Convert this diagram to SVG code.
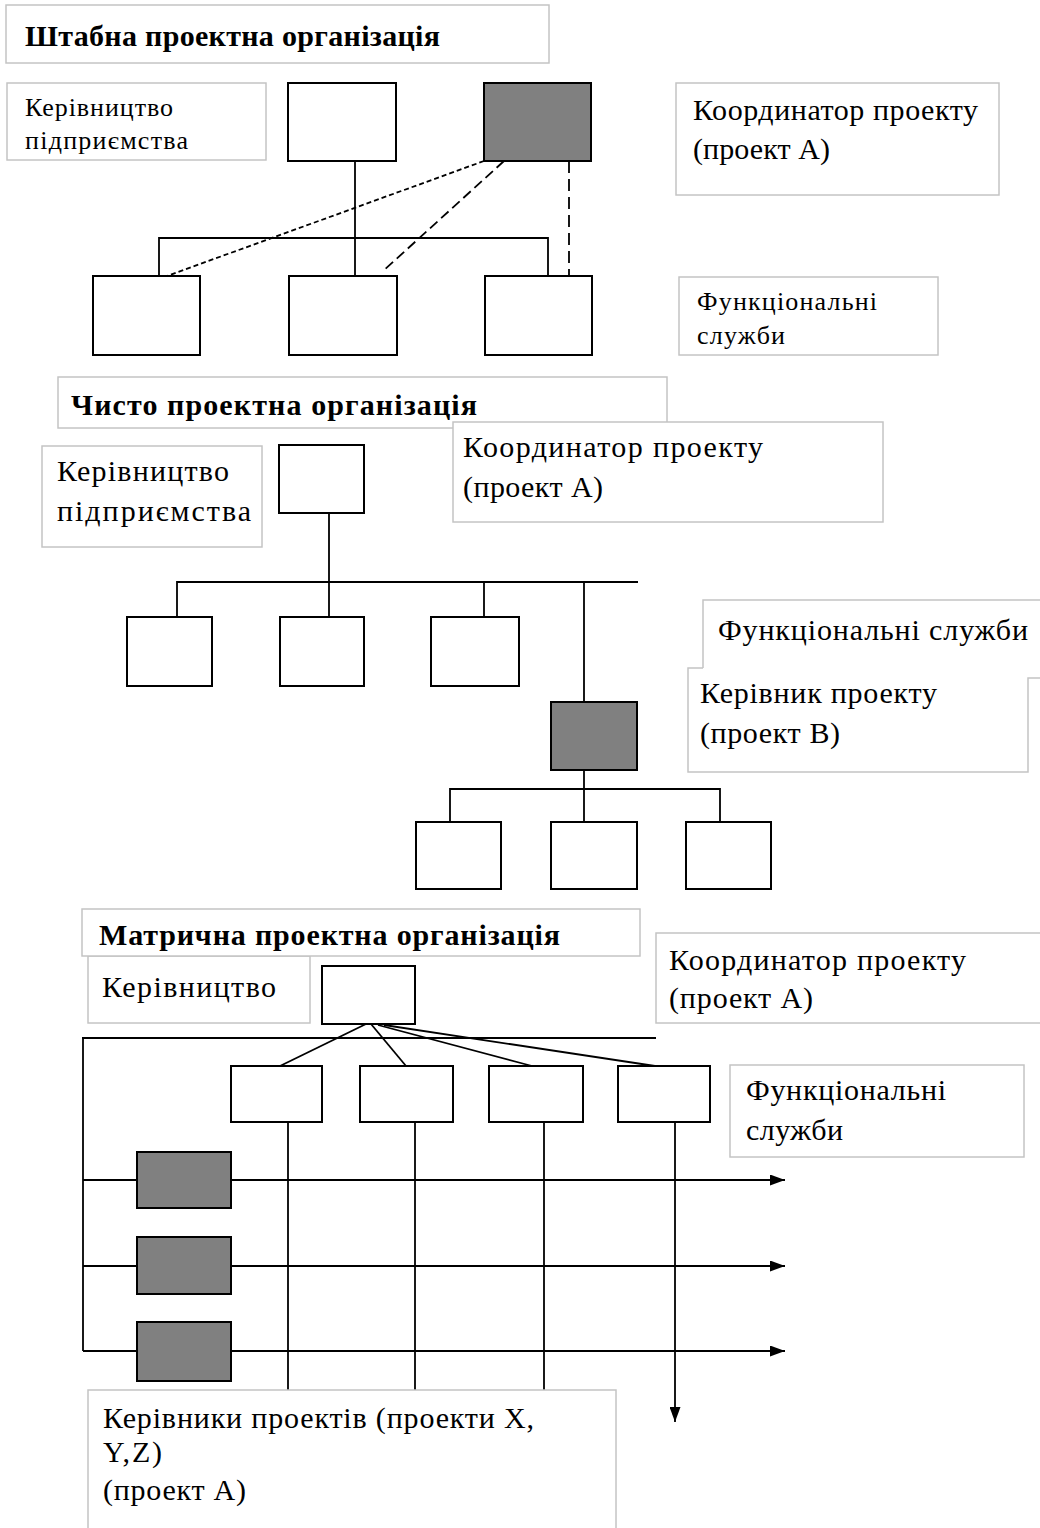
<svg xmlns="http://www.w3.org/2000/svg" width="1040" height="1528" viewBox="0 0 1040 1528">
<defs>
<style>
.frame{fill:#fff;stroke:#c4c4c4;stroke-width:1.5}
.fl{fill:none;stroke:#c4c4c4;stroke-width:1.5}
.box{fill:#fff;stroke:#000;stroke-width:2}
.gbox{fill:#808080;stroke:#000;stroke-width:2}
.ln{fill:none;stroke:#000;stroke-width:1.8}
.lbl{font-family:"Liberation Serif","DejaVu Serif",serif;font-size:30px;fill:#000}
.sm{font-size:26px}
.ttl{font-family:"Liberation Serif","DejaVu Serif",serif;font-size:30px;font-weight:bold;fill:#000}
</style>
<marker id="arr" markerUnits="userSpaceOnUse" markerWidth="15" markerHeight="11" refX="15" refY="5.5" orient="auto">
<path d="M0,0 L15,5.5 L0,11 z" fill="#000"/>
</marker>
</defs>
<rect width="1040" height="1528" fill="#fff"/>

<!-- ===== Section 1: Штабна ===== -->
<g id="s1-title"><rect class="frame" x="6" y="5" width="543" height="58"/>
<text class="ttl" x="25" y="46" textLength="415">Штабна проектна організація</text></g>
<g id="s1-lbl-mgmt"><rect class="frame" x="7" y="83" width="259" height="77"/>
<text class="lbl sm" x="25" y="116" textLength="148">Керівництво</text>
<text class="lbl sm" x="25" y="149" textLength="163">підприємства</text></g>
<g id="s1-lbl-coord"><rect class="frame" x="676" y="83" width="323" height="112"/>
<text class="lbl" x="693" y="120" textLength="285">Координатор проекту</text>
<text class="lbl" x="693" y="159" textLength="137">(проект А)</text></g>
<g id="s1-lbl-func"><rect class="frame" x="679" y="277" width="259" height="78"/>
<text class="lbl sm" x="697" y="310" textLength="180">Функціональні</text>
<text class="lbl sm" x="697" y="344" textLength="88">служби</text></g>

<g id="s1-connectors">
<path class="ln" d="M355,161 V276"/>
<path class="ln" d="M159,276 V238 H548 V276"/>
<path class="ln" d="M484,161 L167,276" stroke-dasharray="5 3"/>
<path class="ln" d="M504,161 L382,272" stroke-dasharray="10 5"/>
<path class="ln" d="M569,161 V276" stroke-dasharray="12 6"/>
</g>
<g id="s1-mgmt"><rect class="box" x="288" y="83" width="108" height="78"/></g>
<g id="s1-coord"><rect class="gbox" x="484" y="83" width="107" height="78"/></g>
<g id="s1-f1"><rect class="box" x="93" y="276" width="107" height="79"/></g>
<g id="s1-f2"><rect class="box" x="289" y="276" width="108" height="79"/></g>
<g id="s1-f3"><rect class="box" x="485" y="276" width="107" height="79"/></g>

<!-- ===== Section 2: Чисто ===== -->
<g id="s2-title"><rect class="frame" x="58" y="377" width="609" height="51"/>
<text class="ttl" x="71" y="415" textLength="406">Чисто проектна організація</text></g>
<g id="s2-lbl-coord"><rect class="frame" x="453" y="422" width="430" height="100"/>
<text class="lbl" x="463" y="457" textLength="300">Координатор проекту</text>
<text class="lbl" x="463" y="497" textLength="140">(проект А)</text></g>
<g id="s2-lbl-mgmt"><rect class="frame" x="42" y="446" width="220" height="101"/>
<text class="lbl" x="57" y="481" textLength="172">Керівництво</text>
<text class="lbl" x="57" y="521" textLength="194">підприємства</text></g>
<g id="s2-lbl-func"><rect x="703" y="600" width="345" height="68" fill="#fff"/>
<path class="fl" d="M703,668 V600 H1048"/>
<text class="lbl" x="718" y="640" textLength="310">Функціональні служби</text></g>
<g id="s2-lbl-pm"><rect x="688" y="668" width="340" height="104" fill="#fff"/>
<path class="fl" d="M703,668 H688 V772 H1028 V678 H1048"/>
<text class="lbl" x="700" y="703" textLength="237">Керівник проекту</text>
<text class="lbl" x="700" y="743" textLength="140">(проект В)</text></g>

<g id="s2-connectors">
<path class="ln" d="M329,513 V617"/>
<path class="ln" d="M177,617 V582 H638"/>
<path class="ln" d="M484,582 V617"/>
<path class="ln" d="M584,582 V702"/>
<path class="ln" d="M584,770 V822"/>
<path class="ln" d="M450,822 V789 H720 V822"/>
</g>
<g id="s2-mgmt"><rect class="box" x="279" y="445" width="85" height="68"/></g>
<g id="s2-f1"><rect class="box" x="127" y="617" width="85" height="69"/></g>
<g id="s2-f2"><rect class="box" x="280" y="617" width="84" height="69"/></g>
<g id="s2-f3"><rect class="box" x="431" y="617" width="88" height="69"/></g>
<g id="s2-pm"><rect class="gbox" x="551" y="702" width="86" height="68"/></g>
<g id="s2-t1"><rect class="box" x="416" y="822" width="85" height="67"/></g>
<g id="s2-t2"><rect class="box" x="551" y="822" width="86" height="67"/></g>
<g id="s2-t3"><rect class="box" x="686" y="822" width="85" height="67"/></g>

<!-- ===== Section 3: Матрична ===== -->
<g id="s3-lbl-mgmt"><rect class="frame" x="88" y="956" width="222" height="67"/>
<text class="lbl" x="102" y="997" textLength="174">Керівництво</text></g>
<g id="s3-title"><rect class="frame" x="82" y="909" width="558" height="47"/>
<text class="ttl" x="99" y="945" textLength="461">Матрична проектна організація</text></g>
<g id="s3-lbl-coord"><rect class="frame" x="656" y="933" width="392" height="90"/>
<text class="lbl" x="669" y="970" textLength="297">Координатор проекту</text>
<text class="lbl" x="669" y="1008" textLength="144">(проект А)</text></g>
<g id="s3-lbl-func"><rect class="frame" x="730" y="1065" width="294" height="92"/>
<text class="lbl" x="746" y="1100" textLength="200">Функціональні</text>
<text class="lbl" x="746" y="1140" textLength="97">служби</text></g>

<g id="s3-connectors">
<path class="ln" d="M82,1038 H656"/>
<path class="ln" d="M83,1038 V1351"/>
<path class="ln" d="M366,1024 L280,1066"/>
<path class="ln" d="M371,1024 L406,1066"/>
<path class="ln" d="M378,1025 L532,1066" stroke-width="2.4"/>
<path class="ln" d="M384,1025 L655,1066" stroke-width="2.4"/>
<path class="ln" d="M288,1122 V1390"/>
<path class="ln" d="M415,1122 V1390"/>
<path class="ln" d="M544,1122 V1390"/>
<path class="ln" d="M675,1122 V1422" marker-end="url(#arr)"/>
<path class="ln" d="M83,1180 H785" marker-end="url(#arr)"/>
<path class="ln" d="M83,1266 H785" marker-end="url(#arr)"/>
<path class="ln" d="M83,1351 H785" marker-end="url(#arr)"/>
</g>
<g id="s3-mgmt"><rect class="box" x="322" y="966" width="93" height="58"/></g>
<g id="s3-f1"><rect class="box" x="231" y="1066" width="91" height="56"/></g>
<g id="s3-f2"><rect class="box" x="360" y="1066" width="93" height="56"/></g>
<g id="s3-f3"><rect class="box" x="489" y="1066" width="94" height="56"/></g>
<g id="s3-f4"><rect class="box" x="618" y="1066" width="92" height="56"/></g>
<g id="s3-pmx"><rect class="gbox" x="137" y="1152" width="94" height="56"/></g>
<g id="s3-pmy"><rect class="gbox" x="137" y="1237" width="94" height="57"/></g>
<g id="s3-pmz"><rect class="gbox" x="137" y="1322" width="94" height="59"/></g>
<g id="s3-lbl-pms"><rect class="frame" x="88" y="1390" width="528" height="150"/>
<text class="lbl" x="103" y="1428" textLength="431">Керівники проектів (проекти X,</text>
<text class="lbl" x="103" y="1462" textLength="59">Y,Z)</text>
<text class="lbl" x="103" y="1500" textLength="143">(проект А)</text></g>
</svg>
